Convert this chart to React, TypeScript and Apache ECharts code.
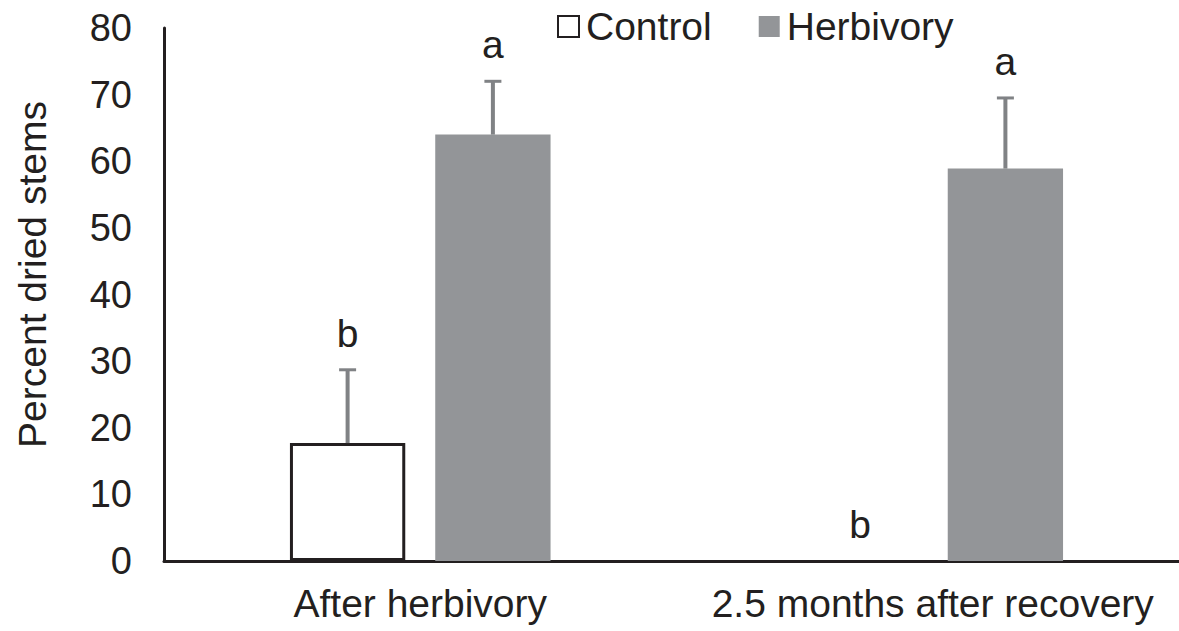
import React, { useEffect, useRef } from "react";
import * as echarts from "echarts";

const categories = ["After herbivory", "2.5 months after recovery"];
const controlMean = [17.7, 0];
const controlSD = [11.0, 0];
const herbMean = [64.0, 58.9];
const herbSD = [8.0, 10.6];
const controlLetters = ["b", "b"];
const herbLetters = ["a", "a"];
const yTicks = { min: 0, max: 80, interval: 10 };

const FONT = "'Liberation Sans', Arial, Helvetica, sans-serif";
const INK = "#231f20";
const BAR_GRAY = "#939598";
const ERR_GRAY = "#808285";
const BAR_WIDTH_FRAC = 0.225;
const BAR_GAP_FRAC = 0.26;
const LETTER_OFFSET = 5.5;

function errorSeries(name: string, means: number[], sds: number[], letters: string[], side: number) {
  return {
    type: "custom",
    name: name + " error",
    silent: true,
    z: 5,
    encode: { x: 0, y: [1, 2] },
    data: means.map((m, i) => [i, m, m + sds[i]]),
    renderItem: (params: any, api: any) => {
      const cat = api.value(0);
      const mean = api.value(1);
      const upper = api.value(2);
      const band = api.size([1, 0])[0];
      const barW = band * BAR_WIDTH_FRAC;
      const offset = ((barW + barW * BAR_GAP_FRAC) / 2) * side;
      const base = api.coord([cat, mean]);
      const x = base[0] + offset;
      const children: any[] = [];
      const hasErr = upper > mean;
      if (hasErr) {
        const top = api.coord([cat, upper]);
        children.push({
          type: "line",
          shape: { x1: x, y1: base[1], x2: x, y2: top[1] },
          style: { stroke: ERR_GRAY, lineWidth: 4 },
        });
        children.push({
          type: "line",
          shape: { x1: x - 8.5, y1: top[1], x2: x + 8.5, y2: top[1] },
          style: { stroke: ERR_GRAY, lineWidth: 3 },
        });
      }
      const lp = api.coord([cat, (hasErr ? upper : mean) + LETTER_OFFSET]);
      children.push({
        type: "text",
        x,
        y: lp[1],
        style: {
          text: letters[params.dataIndex],
          fontSize: 39,
          fontFamily: FONT,
          fill: INK,
          align: "center",
          verticalAlign: "middle",
        },
      });
      return { type: "group", children };
    },
  };
}

export default function App() {
  const ref = useRef<HTMLDivElement>(null);
  useEffect(() => {
    if (!ref.current) return;
    const chart = echarts.init(ref.current, undefined, { renderer: "svg" });
    chart.setOption({
      animation: false,
      backgroundColor: "#ffffff",
      textStyle: { fontFamily: FONT, color: INK },
      grid: { left: 164, right: 0, top: 28, bottom: 70, containLabel: false },
      legend: {
        data: ["Control", "Herbivory"],
        left: 552,
        top: 2,
        icon: "rect",
        itemWidth: 21,
        itemHeight: 21,
        itemGap: 47,
        textStyle: { fontSize: 39, fontFamily: FONT, color: INK, padding: [0, 0, 0, 2] },
        selectedMode: false,
      },
      xAxis: {
        type: "category",
        data: categories,
        axisTick: { show: false },
        axisLine: { show: true, lineStyle: { color: INK, width: 3 } },
        axisLabel: { fontSize: 39, fontFamily: FONT, color: INK, margin: 23, interval: 0, hideOverlap: false },
      },
      yAxis: {
        type: "value",
        min: yTicks.min,
        max: yTicks.max,
        interval: yTicks.interval,
        name: "Percent dried stems",
        nameLocation: "middle",
        nameGap: 112,
        nameTextStyle: { fontSize: 39, fontFamily: FONT, color: INK, padding: [0, 0, 0, 40] },
        splitLine: { show: false },
        axisTick: { show: false },
        axisLine: { show: true, lineStyle: { color: INK, width: 3 } },
        axisLabel: { fontSize: 38, fontFamily: FONT, color: INK, margin: 32 },
      },
      series: [
        {
          type: "bar",
          name: "Control",
          data: controlMean.map((v) => ({
            value: v,
            itemStyle: { borderWidth: v > 0 ? 3 : 0 },
          })),
          barWidth: BAR_WIDTH_FRAC * 100 + "%",
          barGap: BAR_GAP_FRAC * 100 + "%",
          itemStyle: { color: "#ffffff", borderColor: INK, borderWidth: 3 },
        },
        {
          type: "bar",
          name: "Herbivory",
          data: herbMean,
          barWidth: BAR_WIDTH_FRAC * 100 + "%",
          barGap: BAR_GAP_FRAC * 100 + "%",
          itemStyle: { color: BAR_GRAY },
        },
        errorSeries("Control", controlMean, controlSD, controlLetters, -1),
        errorSeries("Herbivory", herbMean, herbSD, herbLetters, 1),
      ],
    });
    return () => chart.dispose();
  }, []);
  return (
    <div
      ref={ref}
      style={{ position: "fixed", left: 0, top: 0, width: 1189, height: 631, background: "#fff" }}
    />
  );
}
